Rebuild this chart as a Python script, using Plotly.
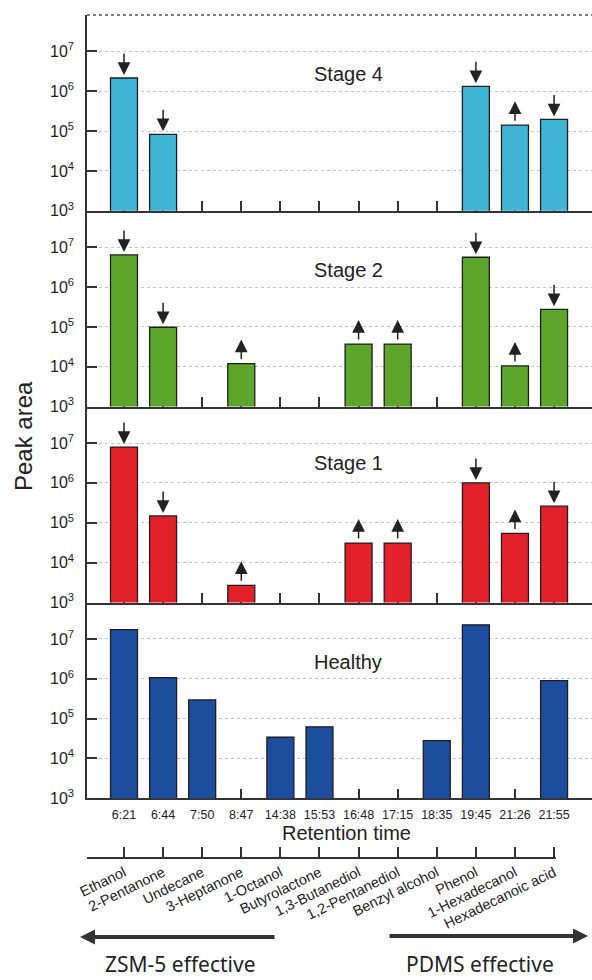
import math
import plotly.graph_objects as go

retention_times = ["6:21", "6:44", "7:50", "8:47", "14:38", "15:53", "16:48",
                   "17:15", "18:35", "19:45", "21:26", "21:55"]
compounds = ["Ethanol", "2-Pentanone", "Undecane", "3-Heptanone", "1-Octanol",
             "Butyrolactone", "1,3-Butanediol", "1,2-Pentanediol", "Benzyl alcohol",
             "Phenol", "1-Hexadecanol", "Hexadecanoic acid"]

stage4 = [2.15e6, 8.3e4, None, None, None, None, None, None, None, 1.33e6, 1.41e5, 1.96e5]
stage2 = [6.4e6, 9.8e4, None, 1.2e4, None, None, 3.7e4, 3.7e4, None, 5.6e6, 1.05e4, 2.76e5]
stage1 = [7.9e6, 1.48e5, None, 2.7e3, None, None, 3.1e4, 3.1e4, None, 1.0e6, 5.4e4, 2.6e5]
healthy = [1.7e7, 1.07e6, 2.95e5, None, 3.4e4, 6.2e4, None, None, 2.8e4, 2.25e7, None, 9.0e5]

stage4_arrows = ["down", "down", None, None, None, None, None, None, None, "down", "up", "down"]
stage2_arrows = ["down", "down", None, "up", None, None, "up", "up", None, "down", "up", "down"]
stage1_arrows = ["down", "down", None, "up", None, None, "up", "up", None, "down", "up", "down"]
healthy_arrows = [None] * 12

panel_names = ["Stage 4", "Stage 2", "Stage 1", "Healthy"]
panel_colors = ["#3fb4d4", "#5ea52b", "#e3212b", "#1d4e9e"]

W, H = 592, 980
T, B = 15, 0
PH = H - T - B


def py(ypx):
    return (H - ypx) / PH


def px(xpx):
    return (xpx - 87) / (W - 87)


bounds = [15, 210.8, 406.6, 602.5, 798.3]
label_y = [74, 270, 463, 662]
data = [stage4, stage2, stage1, healthy]
arrows = [stage4_arrows, stage2_arrows, stage1_arrows, healthy_arrows]

xs = list(range(len(retention_times)))
FONT = "Liberation Sans, Arial, sans-serif"
fig = go.Figure()
annotations = []
layout = {}
yr = [3, 3 + 195.8 / 39.85]


def label(text, x, y, size, family=FONT, angle=0):
    return dict(text=text, xref="paper", yref="paper", x=x, y=y, xanchor="center",
                yanchor="middle", showarrow=False, textangle=angle,
                font=dict(size=size, color="#222", family=family))


for k in range(4):
    sfx = "" if k == 0 else str(k + 1)
    fig.add_trace(go.Bar(
        x=xs, y=data[k], width=0.69,
        marker=dict(color=panel_colors[k], line=dict(color="#1e1e1e", width=1.3)),
        xaxis="x" + sfx, yaxis="y" + sfx, showlegend=False))
    layout["xaxis" + sfx] = dict(
        domain=[0, 1], range=[-0.946, 11.97], type="linear", anchor="y" + sfx,
        tickmode="array", tickvals=xs,
        ticktext=retention_times if k == 3 else [""] * 12,
        showticklabels=(k == 3), ticks="inside", ticklen=10, tickwidth=1.5,
        tickcolor="#333", showline=True, linecolor="#333", linewidth=1.5,
        showgrid=False, zeroline=False, layer="below traces", automargin=False,
        tickfont=dict(size=12.5, color="#222", family=FONT),
        ticklabelstandoff=4,
        **({} if k == 0 else {"matches": "x"}))
    layout["yaxis" + sfx] = dict(
        domain=[py(bounds[k + 1]), py(bounds[k])], type="log", range=yr,
        anchor="x" + sfx, tickmode="array",
        tickvals=[1e3, 1e4, 1e5, 1e6, 1e7],
        ticktext=["10<sup>3</sup>", "10<sup>4</sup>", "10<sup>5</sup>",
                  "10<sup>6</sup>", "10<sup>7</sup>"],
        ticks="inside", ticklen=10, tickwidth=1.5, tickcolor="#333",
        showline=True, linecolor="#333", linewidth=1.5, automargin=False,
        showgrid=True, gridcolor="#c4c4c4", griddash="dot", gridwidth=1,
        zeroline=False, tickfont=dict(size=16, color="#222", family=FONT),
        ticklabelstandoff=8)
    annotations.append(label(panel_names[k], px(348), py(label_y[k]), 20))
    for i, (v, a) in enumerate(zip(data[k], arrows[k])):
        if v is None or a is None:
            continue
        common = dict(xref="x" + sfx, yref="y" + sfx, x=i, y=math.log10(v), text="",
                      showarrow=True, arrowhead=2, arrowsize=1.7, arrowwidth=1.5,
                      arrowcolor="#222", axref="pixel", ayref="pixel", ax=0)
        if a == "down":
            common.update(ay=-26, standoff=3)
        else:
            common.update(ay=21, yshift=24)
        annotations.append(common)

# compound axis
fig.add_trace(go.Scatter(x=[None], y=[None], xaxis="x5", yaxis="y5",
                         showlegend=False, hoverinfo="skip"))
layout["xaxis5"] = dict(
    domain=[0, px(556)], range=[-0.946, 11.05], type="linear", anchor="y5",
    tickmode="array", tickvals=[-0.946] + xs, ticktext=[""] + compounds,
    tickangle=-26, ticks="inside", ticklen=10, tickwidth=1.5, tickcolor="#333",
    showline=True, linecolor="#333", linewidth=1.5, showgrid=False, zeroline=False,
    automargin=False,
    tickfont=dict(size=14.5, color="#222", family=FONT), ticklabelstandoff=0)
layout["yaxis5"] = dict(domain=[py(857), py(850)], range=[0, 1], visible=False,
                        anchor="x5", automargin=False)

annotations += [
    label("Retention time", px(346), py(833), 20),
    label("Peak area", px(23), py(436), 24, angle=-90),
    dict(text="", xref="paper", yref="paper", x=px(80), y=py(937), showarrow=True,
         arrowhead=2, arrowsize=0.75, arrowwidth=4, arrowcolor="#333",
         axref="pixel", ayref="pixel", ax=196, ay=0),
    dict(text="", xref="paper", yref="paper", x=px(588), y=py(936), showarrow=True,
         arrowhead=2, arrowsize=0.75, arrowwidth=4, arrowcolor="#333",
         axref="pixel", ayref="pixel", ax=-200, ay=0),
    label("ZSM-5 effective", px(180), py(964), 21, family="Noto Sans, sans-serif"),
    label("PDMS effective", px(480), py(964), 21, family="Noto Sans, sans-serif"),
]

fig.update_layout(
    width=W, height=H, margin=dict(l=87, r=0, t=T, b=B, autoexpand=False),
    paper_bgcolor="white", plot_bgcolor="white", bargap=0.3,
    annotations=annotations,
    shapes=[dict(type="line", xref="paper", yref="paper", x0=0, x1=1, y0=1, y1=1,
                 line=dict(color="#555", width=1.5, dash="dot"))],
    **layout)

fig.write_html("out.html", config={"displayModeBar": False},
               post_script="document.body.style.margin='0';"
                           "document.body.style.overflow='hidden';")
